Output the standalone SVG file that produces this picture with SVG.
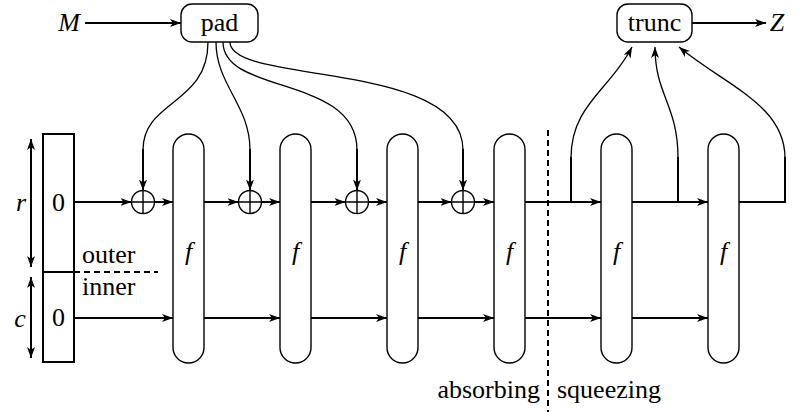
<svg xmlns="http://www.w3.org/2000/svg" width="804" height="412" viewBox="0 0 804 412" font-family="Liberation Serif, DejaVu Serif, serif">
<style>
text{font-size:26px;fill:#000}
.it{font-style:italic}
.mid{text-anchor:middle}
.ln{stroke:#000;stroke-width:2;fill:none}
.cv{stroke:#000;stroke-width:1.3;fill:none}
.fbox{fill:#fff;stroke:#000;stroke-width:1.4}
.rbox{fill:#fff;stroke:#000;stroke-width:1.4}
.dash{stroke:#000;stroke-width:2;stroke-dasharray:6 4;fill:none}
</style>
<defs>
<marker id="ah" markerWidth="12" markerHeight="9" refX="11" refY="4" orient="auto-start-reverse" markerUnits="userSpaceOnUse">
<path d="M0,0 L11,4 L0,8 L3,4 z" fill="#000"/>
</marker>
</defs>
<rect width="804" height="412" fill="#fff"/>
<g id="connectors">
<path class="ln" d="M85,23 H181" marker-end="url(#ah)"/>
<path class="ln" d="M692,23 H766" marker-end="url(#ah)"/>
<path class="ln" d="M31,139 V267" marker-start="url(#ah)" marker-end="url(#ah)"/>
<path class="ln" d="M31,277 V358" marker-start="url(#ah)" marker-end="url(#ah)"/>
<path class="dash" d="M74,272 H158"/>
<path class="dash" d="M548,130 V412"/>
<path class="ln" d="M74,202 H131.5" marker-end="url(#ah)"/>
<path class="ln" d="M154.5,202 H173" marker-end="url(#ah)"/>
<path class="ln" d="M204,202 H238.5" marker-end="url(#ah)"/>
<path class="ln" d="M261.5,202 H280" marker-end="url(#ah)"/>
<path class="ln" d="M311,202 H345.5" marker-end="url(#ah)"/>
<path class="ln" d="M368.5,202 H387" marker-end="url(#ah)"/>
<path class="ln" d="M418,202 H451.5" marker-end="url(#ah)"/>
<path class="ln" d="M474.5,202 H494" marker-end="url(#ah)"/>
<path class="ln" d="M525,202 H601" marker-end="url(#ah)"/>
<path class="ln" d="M632,202 H708" marker-end="url(#ah)"/>
<path class="ln" d="M739,202 H785 V157"/>
<path class="ln" d="M571,202 V157"/>
<path class="ln" d="M678,202 V157"/>
<path class="ln" d="M74,318 H173" marker-end="url(#ah)"/>
<path class="ln" d="M204,318 H280" marker-end="url(#ah)"/>
<path class="ln" d="M311,318 H387" marker-end="url(#ah)"/>
<path class="ln" d="M418,318 H494" marker-end="url(#ah)"/>
<path class="ln" d="M525,318 H601" marker-end="url(#ah)"/>
<path class="ln" d="M632,318 H708" marker-end="url(#ah)"/>
<path class="cv" d="M208,42 C208,105 143,100 143,150"/>
<path class="ln" d="M143,149 V190.5" marker-end="url(#ah)"/>
<path class="cv" d="M216,42 C216,85 250,105 250,150"/>
<path class="ln" d="M250,149 V190.5" marker-end="url(#ah)"/>
<path class="cv" d="M223,42 C223,95 357,75 357,150"/>
<path class="ln" d="M357,149 V190.5" marker-end="url(#ah)"/>
<path class="cv" d="M230,42 C230,85 463,60 463,150"/>
<path class="ln" d="M463,149 V190.5" marker-end="url(#ah)"/>
<path class="cv" d="M571,158 C571,105 610,90 632,47" marker-end="url(#ah)"/>
<path class="cv" d="M678,158 C678,105 655,95 655,47" marker-end="url(#ah)"/>
<path class="cv" d="M785,158 C785,105 725,85 679,47" marker-end="url(#ah)"/>
</g>
<g id="M"><text class="it" x="69" y="31" text-anchor="middle">M</text></g>
<g id="Z"><text class="it" x="777" y="31" text-anchor="middle">Z</text></g>
<g id="pad"><rect class="rbox" x="181" y="4" width="77" height="38" rx="11"/><text class="mid" x="219.5" y="31">pad</text></g>
<g id="trunc"><rect class="rbox" x="617" y="4" width="75" height="38" rx="11"/><text class="mid" x="654.5" y="31">trunc</text></g>
<g id="state">
<rect x="43" y="134" width="31" height="228" fill="#fff" stroke="#000" stroke-width="2"/>
<line x1="43" y1="272" x2="74" y2="272" stroke="#000" stroke-width="2"/>
<text class="mid" x="58.5" y="211">0</text>
<text class="mid" x="58.5" y="326">0</text>
</g>
<g id="labels">
<text class="it mid" x="21" y="211">r</text>
<text class="it mid" x="20" y="327">c</text>
<text x="82" y="263">outer</text>
<text x="82" y="295">inner</text>
<text x="540" y="398" text-anchor="end">absorbing</text>
<text x="557" y="398">squeezing</text>
</g>
<g id="xor1"><circle cx="143" cy="202" r="11.5" fill="#fff" stroke="#000" stroke-width="1.4"/><path d="M131.5,202 H154.5 M143,190.5 V213.5" stroke="#000" stroke-width="1.4"/></g>
<g id="xor2"><circle cx="250" cy="202" r="11.5" fill="#fff" stroke="#000" stroke-width="1.4"/><path d="M238.5,202 H261.5 M250,190.5 V213.5" stroke="#000" stroke-width="1.4"/></g>
<g id="xor3"><circle cx="357" cy="202" r="11.5" fill="#fff" stroke="#000" stroke-width="1.4"/><path d="M345.5,202 H368.5 M357,190.5 V213.5" stroke="#000" stroke-width="1.4"/></g>
<g id="xor4"><circle cx="463" cy="202" r="11.5" fill="#fff" stroke="#000" stroke-width="1.4"/><path d="M451.5,202 H474.5 M463,190.5 V213.5" stroke="#000" stroke-width="1.4"/></g>
<g id="f1"><rect class="fbox" x="173" y="134" width="31" height="229" rx="15.5"/><text class="it mid" x="188.5" y="260">f</text></g>
<g id="f2"><rect class="fbox" x="280" y="134" width="31" height="229" rx="15.5"/><text class="it mid" x="295.5" y="260">f</text></g>
<g id="f3"><rect class="fbox" x="387" y="134" width="31" height="229" rx="15.5"/><text class="it mid" x="402.5" y="260">f</text></g>
<g id="f4"><rect class="fbox" x="494" y="134" width="31" height="229" rx="15.5"/><text class="it mid" x="509.5" y="260">f</text></g>
<g id="f5"><rect class="fbox" x="601" y="134" width="31" height="229" rx="15.5"/><text class="it mid" x="616.5" y="260">f</text></g>
<g id="f6"><rect class="fbox" x="708" y="134" width="31" height="229" rx="15.5"/><text class="it mid" x="723.5" y="260">f</text></g>
</svg>
